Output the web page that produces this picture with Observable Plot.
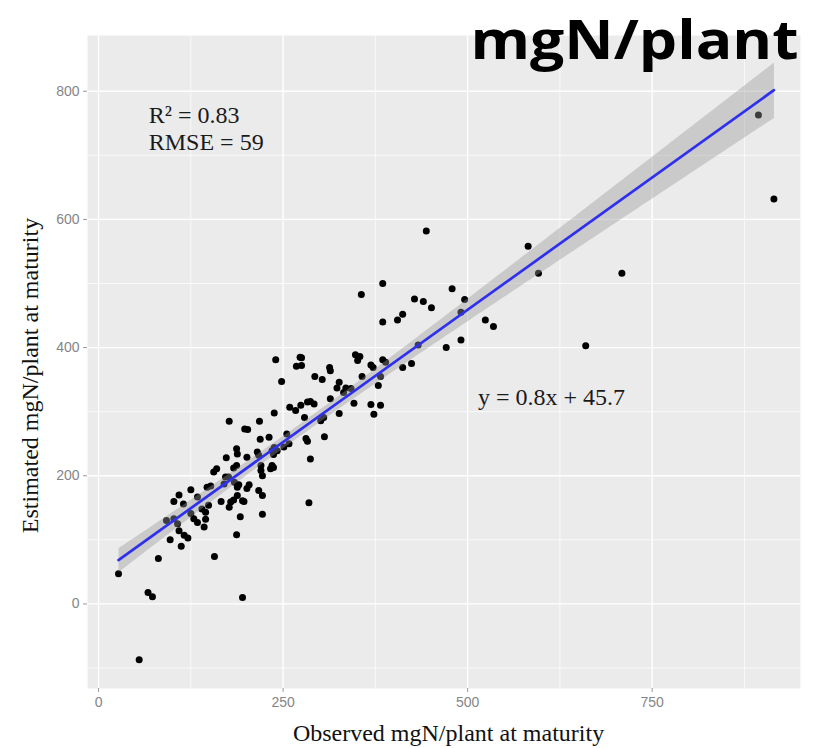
<!DOCTYPE html>
<html>
<head>
<meta charset="utf-8">
<script src="https://cdn.jsdelivr.net/npm/d3@7"></script>
<script src="https://cdn.jsdelivr.net/npm/@observablehq/plot@0.6"></script>
<style>
  html, body { margin: 0; padding: 0; background: white; }
  #chart { width: 813px; height: 748px; }
</style>
</head>
<body>
<div id="chart"></div>
<script>
// Observed mgN/plant at maturity
const observed = [
  55, 27, 67, 73, 81, 97, 112, 92, 102, 107, 109, 116, 121, 125, 129, 134, 143, 140, 145, 145,
  102, 109, 125, 115, 134, 147, 149, 152, 157, 166, 170, 172, 176, 177, 179, 183, 188, 195, 197, 184,
  188, 190, 187, 192, 195, 201, 204, 217, 222, 222, 285, 156, 160, 173, 187, 183, 187, 188, 201, 215,
  217, 220, 220, 222, 233, 237, 235, 238, 242, 235, 237, 251, 258, 177, 218, 198, 202, 219, 231, 255,
  287, 238, 259, 267, 274, 240, 273, 268, 248, 293, 303, 313, 314, 275, 275, 326, 323, 335, 342, 332,
  314, 283, 292, 287, 326, 279, 305, 301, 281, 283, 306, 346, 369, 382, 373, 357, 382, 379, 348, 354,
  351, 385, 389, 369, 372, 412, 424, 433, 385, 405, 412, 428, 440, 451, 356, 385, 471, 491, 491, 479,
  496, 524, 535, 582, 596, 709, 660, 894, 915, 444
];
// Estimated mgN/plant at maturity
const estimated = [
  -87, 47, 18, 11, 71, 100, 90, 130, 133, 125, 114, 107, 103, 141, 133, 127, 120, 148, 143, 132,
  160, 170, 178, 156, 167, 182, 154, 184, 74, 160, 187, 198, 198, 151, 159, 162, 169, 161, 160, 190,
  182, 186, 108, 136, 10, 180, 186, 177, 169, 140, 158, 206, 211, 228, 216, 212, 242, 234, 229, 237,
  232, 216, 208, 200, 211, 213, 216, 244, 239, 239, 233, 245, 250, 285, 285, 273, 272, 257, 260, 265,
  226, 298, 307, 302, 310, 381, 385, 371, 347, 355, 350, 369, 364, 384, 372, 346, 337, 337, 336, 330,
  320, 315, 312, 316, 297, 291, 291, 286, 258, 254, 261, 313, 311, 310, 296, 355, 355, 341, 389, 386,
  380, 381, 377, 373, 369, 369, 375, 404, 440, 443, 452, 476, 472, 462, 483, 500, 400, 412, 455, 492,
  475, 443, 433, 558, 516, 516, 403, 763, 632, 582
];

const xTicks = [0, 250, 500, 750];
const xMinor = [125, 375, 625, 875];
const yTicks = [0, 200, 400, 600, 800];
const yMinor = [-100, 100, 300, 500, 700];

const titleText = "mgN/plant";
const xLabel = "Observed mgN/plant at maturity";
const yLabel = "Estimated mgN/plant at maturity";
const statLabels = ["R² = 0.83", "RMSE = 59", "y = 0.8x + 45.7"];
const statX = [68, 68, 514];
const statY = [751, 709, 310];

const points = observed.map((x, i) => ({x, y: estimated[i]}));
const annotations = statLabels.map((label, i) => ({label, x: statX[i], y: statY[i]}));

const chart = Plot.plot({
  width: 813,
  height: 748,
  marginLeft: 87,
  marginRight: 13,
  marginTop: 35,
  marginBottom: 60,
  style: {background: "white", fontFamily: "Liberation Sans", overflow: "visible"},
  x: {domain: [-15, 951]},
  y: {domain: [-132, 887]},
  marks: [
    Plot.frame({fill: "#EBEBEB", stroke: null}),
    Plot.gridX(xMinor, {stroke: "white", strokeOpacity: 1, strokeWidth: 0.7}),
    Plot.gridY(yMinor, {stroke: "white", strokeOpacity: 1, strokeWidth: 0.7}),
    Plot.gridX(xTicks, {stroke: "white", strokeOpacity: 1, strokeWidth: 1.4}),
    Plot.gridY(yTicks, {stroke: "white", strokeOpacity: 1, strokeWidth: 1.4}),
    Plot.axisX({ticks: xTicks, tickSize: 4, tickPadding: 5, stroke: "#9a9a9a", fill: "#858585", fontSize: 14, label: null}),
    Plot.axisY({ticks: yTicks, tickSize: 4, tickPadding: 4, stroke: "#9a9a9a", fill: "#858585", fontSize: 14, label: null}),
    Plot.dot(points, {x: "x", y: "y", r: 3.5, fill: "black", stroke: null}),
    Plot.linearRegressionY(points, {x: "x", y: "y", stroke: "#2f2ff0", strokeWidth: 2.7, fill: "#999999", fillOpacity: 0.4, ci: 0.95}),
    Plot.text(annotations, {x: "x", y: "y", text: "label", textAnchor: "start", lineAnchor: "bottom",
      fontFamily: "Liberation Serif", fontSize: 24, fill: "#1a1a1a"}),
    Plot.text([xLabel], {frameAnchor: "bottom", textAnchor: "middle", dx: 4.5, dy: 52, lineAnchor: "bottom",
      fontFamily: "Liberation Serif", fontSize: 24, fill: "#111"}),
    Plot.text([yLabel], {frameAnchor: "left", textAnchor: "middle", rotate: -90, dx: -57, dy: 13.5,
      fontFamily: "Liberation Serif", fontSize: 24, fill: "#111"}),
    Plot.text([titleText], {frameAnchor: "top-right", textAnchor: "end", lineAnchor: "bottom", dx: -2, dy: 23,
      fontFamily: "Open Sans", fontWeight: 700, fontSize: 53, fill: "black"})
  ]
});

document.getElementById("chart").appendChild(chart);

// fit the title to its width in the reference
d3.select(chart).selectAll("text").filter(function() { return this.textContent === titleText; })
  .attr("textLength", 328).attr("lengthAdjust", "spacingAndGlyphs");
</script>
</body>
</html>
